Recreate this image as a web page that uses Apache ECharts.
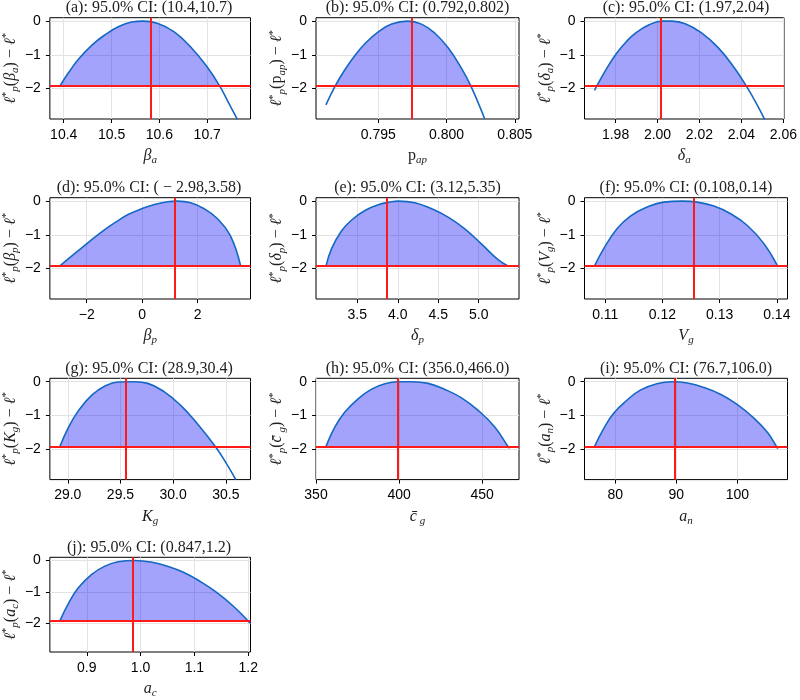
<!DOCTYPE html>
<html lang="en">
<head>
<meta charset="UTF-8">
<title>Profile likelihoods</title>
<script src="https://cdn.jsdelivr.net/npm/echarts@6/dist/echarts.min.js"></script>
<style>
    html, body { margin: 0; padding: 0; background: #fff; }
    #chart { width: 800px; height: 700px; }
</style>
</head>
<body>
<div id="chart"></div>
<script>
// 95% CI cut-off for l_p - l*
var threshold = -1.92;

var panelIds = ['a', 'b', 'c', 'd', 'e', 'f', 'g', 'h', 'i', 'j'];
var ciText = ['(10.4,10.7)', '(0.792,0.802)', '(1.97,2.04)', '( \u2212 2.98,3.58)', '(3.12,5.35)',
              '(0.108,0.14)', '(28.9,30.4)', '(356.0,466.0)', '(76.7,106.0)', '(0.847,1.2)'];
var mle = [10.581, 0.79749, 2.0017, 1.16, 3.87, 0.12556, 29.553, 399.1, 89.7, 0.985];

var xMin = [10.371, 0.79044, 1.9652, -3.33, 2.99, 0.10637, 28.83, 350, 74.96, 0.8314];
var xMax = [10.7905, 0.80531, 2.0603, 3.905, 5.498, 0.14187, 30.734, 472.2, 108.2, 1.2043];
var xTicks = [
    [10.4, 10.5, 10.6, 10.7],
    [0.795, 0.800, 0.805],
    [1.98, 2.00, 2.02, 2.04, 2.06],
    [-2, 0, 2],
    [3.5, 4.0, 4.5, 5.0],
    [0.11, 0.12, 0.13, 0.14],
    [29.0, 29.5, 30.0, 30.5],
    [350, 400, 450],
    [80, 90, 100],
    [0.9, 1.0, 1.1, 1.2]
];
var xDecimals = [1, 3, 2, 0, 1, 2, 1, 0, 0, 1];
var yTicks = [-2, -1, 0];
var yMin = -2.9, yMax = 0.1;

// profile curves: parameter value / l_p - l*
var xA = [10.392, 10.411, 10.432, 10.459, 10.487, 10.514, 10.542, 10.566, 10.597, 10.631, 10.665, 10.700, 10.726, 10.744, 10.763];
var yA = [-1.92, -1.51, -1.11, -0.71, -0.40, -0.17, -0.03, 0.0, -0.07, -0.32, -0.76, -1.36, -1.92, -2.40, -2.91];
var xB = [0.79117, 0.79185, 0.79256, 0.79329, 0.79402, 0.79500, 0.79598, 0.79715, 0.79817, 0.79915, 0.80012, 0.80110, 0.80178, 0.80280];
var yB = [-2.48, -1.92, -1.44, -1.02, -0.67, -0.32, -0.09, 0.0, -0.09, -0.36, -0.79, -1.40, -1.92, -2.90];
var xC = [1.9700, 1.9711, 1.9758, 1.9805, 1.9851, 1.9898, 1.9960, 2.0022, 2.0069, 2.0132, 2.0210, 2.0288, 2.0366, 2.0423, 2.0475, 2.0511];
var yC = [-2.05, -1.92, -1.40, -0.955, -0.61, -0.34, -0.11, 0.0, 0.0, -0.08, -0.35, -0.78, -1.38, -1.92, -2.48, -2.92];
var xD = [-2.967, -2.647, -1.994, -1.46, -0.985, -0.51, 0.0, 0.439, 0.914, 1.27, 1.745, 2.22, 2.694, 3.169, 3.549];
var yD = [-1.92, -1.70, -1.26, -0.91, -0.64, -0.40, -0.22, -0.10, -0.02, 0.0, -0.05, -0.22, -0.51, -1.01, -1.92];
var xE = [3.114, 3.184, 3.307, 3.430, 3.595, 3.759, 3.923, 4.006, 4.211, 4.417, 4.622, 4.828, 5.033, 5.239, 5.362];
var yE = [-1.92, -1.40, -0.88, -0.56, -0.28, -0.11, -0.02, 0.0, -0.05, -0.228, -0.475, -0.822, -1.267, -1.733, -1.92];
var xF = [0.10813, 0.10971, 0.11205, 0.11439, 0.11731, 0.12023, 0.12345, 0.12608, 0.12900, 0.13193, 0.13485, 0.13778, 0.14012];
var yF = [-1.92, -1.416, -0.822, -0.446, -0.178, -0.03, 0.0, -0.03, -0.149, -0.376, -0.723, -1.267, -1.92];
var xG = [28.925, 29.009, 29.103, 29.228, 29.353, 29.478, 29.634, 29.759, 29.916, 30.072, 30.228, 30.400, 30.509, 30.594];
var yG = [-1.92, -1.34, -0.85, -0.40, -0.13, -0.01, 0.0, -0.05, -0.30, -0.70, -1.24, -1.92, -2.44, -2.90];
var xH = [356.0, 361.4, 367.4, 375.5, 383.5, 391.5, 399.5, 407.5, 417.5, 427.6, 437.6, 447.6, 457.6, 465.6, 466.6];
var yH = [-1.92, -1.34, -0.90, -0.50, -0.22, -0.06, 0.0, 0.0, -0.05, -0.23, -0.48, -0.85, -1.34, -1.92, -1.97];
var xI = [76.6, 78.1, 79.7, 81.9, 84.1, 86.8, 89.3, 91.8, 94.5, 97.3, 100.0, 102.7, 104.9, 106.4, 106.6];
var yI = [-1.92, -1.39, -0.94, -0.55, -0.25, -0.06, 0.0, -0.04, -0.17, -0.38, -0.68, -1.08, -1.50, -1.92, -1.98];
var xJ = [0.8498, 0.8663, 0.8847, 0.9092, 0.9337, 0.9582, 0.9888, 1.0194, 1.0500, 1.0806, 1.1113, 1.1419, 1.1725, 1.2000, 1.2031];
var yJ = [-1.92, -1.35, -0.86, -0.44, -0.18, -0.04, 0.0, -0.05, -0.18, -0.38, -0.67, -1.02, -1.45, -1.92, -1.99];

var curvesX = [xA, xB, xC, xD, xE, xF, xG, xH, xI, xJ];
var curvesY = [yA, yB, yC, yD, yE, yF, yG, yH, yI, yJ];

// parameter symbols (rich text)
var paramNames = ['{m|\u03b2}{sub|a}', '{r|p}{sub|ap}', '{m|\u03b4}{sub|a}', '{m|\u03b2}{sub|p}', '{m|\u03b4}{sub|p}',
                  '{m|V}{sub|g}', '{m|K}{sub|g}', '{m|c\u0304}{sub| g}', '{m|a}{sub|n}', '{m|a}{sub|c}'];

var serif = '"Liberation Serif", "DejaVu Serif", serif';
var sans = '"Liberation Sans", Arial, sans-serif';
var rich = {
    m: { fontFamily: serif, fontStyle: 'italic', fontSize: 16, color: '#222', lineHeight: 20 },
    r: { fontFamily: serif, fontSize: 16, color: '#222', lineHeight: 20 },
    sup: { fontFamily: serif, fontSize: 11, color: '#222', verticalAlign: 'top', lineHeight: 20 },
    sub: { fontFamily: serif, fontStyle: 'italic', fontSize: 11, color: '#222', verticalAlign: 'bottom', lineHeight: 16 }
};

var colLeft = [47.5, 316, 584.5];
var rowTop = [17.7, 197.7, 378.3, 557.3];
var gw = 203, gh = 101.3;

function minus(s) { return s.replace('-', '\u2212'); }

var grids = [], xAxes = [], yAxes = [], titles = [], series = [];

panelIds.forEach(function (id, i) {
    var left = colLeft[i % 3], top = rowTop[Math.floor(i / 3)];
    grids.push({ left: left, top: top, width: gw, height: gh, show: true,
                 borderColor: '#000', borderWidth: 1, backgroundColor: 'transparent' });

    titles.push({
        text: '(' + id + '): 95.0% CI: ' + ciText[i],
        left: left + gw / 2, top: top - 18, textAlign: 'center', padding: 0,
        textStyle: { fontFamily: serif, fontSize: 16, fontWeight: 'normal', color: '#222' }
    });

    var dec = xDecimals[i];
    xAxes.push({
        type: 'value', gridIndex: i, min: xMin[i], max: xMax[i],
        name: paramNames[i], nameLocation: 'middle', nameGap: 27,
        nameTextStyle: { rich: rich },
        axisLine: { show: false, onZero: false },
        axisTick: { show: true, length: 4, lineStyle: { color: '#000' }, customValues: xTicks[i] },
        axisLabel: { customValues: xTicks[i], margin: 9, fontFamily: sans, fontSize: 14, color: '#000',
                     formatter: function (v) { return minus(Number(v).toFixed(dec)); } },
        splitLine: { show: true, lineStyle: { color: '#e3e3e3', width: 1 } }
    });

    yAxes.push({
        type: 'value', gridIndex: i, min: yMin, max: yMax,
        name: '{m|\u2113}{sup|*}{sub|p}{r|(}' + paramNames[i] + '{r|) \u2212 }{m|\u2113}{sup|*}',
        nameLocation: 'middle', nameRotate: 90, nameGap: 25,
        nameTextStyle: { rich: rich },
        axisLine: { show: false, onZero: false },
        axisTick: { show: true, length: 4, lineStyle: { color: '#000' }, customValues: yTicks },
        axisLabel: { customValues: yTicks, margin: 9, fontFamily: sans, fontSize: 14, color: '#000',
                     formatter: function (v) { return minus(String(v)); } },
        splitLine: { show: true, lineStyle: { color: '#e3e3e3', width: 1 } }
    });

    var pts = curvesX[i].map(function (x, k) { return [x, curvesY[i][k]]; });
    var inside = pts.filter(function (p) { return p[1] >= threshold; });

    // shaded CI region
    series.push({
        type: 'line', xAxisIndex: i, yAxisIndex: i, data: inside, smooth: 0.45,
        symbol: 'none', silent: true, z: 1,
        lineStyle: { width: 0 },
        areaStyle: { origin: threshold, color: 'rgba(0,0,245,0.36)', opacity: 1 }
    });
    // profile curve
    series.push({
        type: 'line', xAxisIndex: i, yAxisIndex: i, data: pts, smooth: 0.45,
        symbol: 'none', silent: true, z: 2,
        lineStyle: { color: '#1468c4', width: 1.6 }
    });
    // threshold and MLE lines
    series.push({
        type: 'line', xAxisIndex: i, yAxisIndex: i, data: [], z: 3,
        markLine: {
            silent: true, symbol: 'none', precision: 6, label: { show: false }, animation: false,
            lineStyle: { color: '#ff1a1a', width: 2, type: 'solid' },
            data: [{ yAxis: threshold }, { xAxis: mle[i] }]
        }
    });
});

var chart = echarts.init(document.getElementById('chart'));
chart.setOption({
    animation: false,
    backgroundColor: '#fff',
    title: titles,
    grid: grids,
    xAxis: xAxes,
    yAxis: yAxes,
    series: series
});
</script>
</body>
</html>
